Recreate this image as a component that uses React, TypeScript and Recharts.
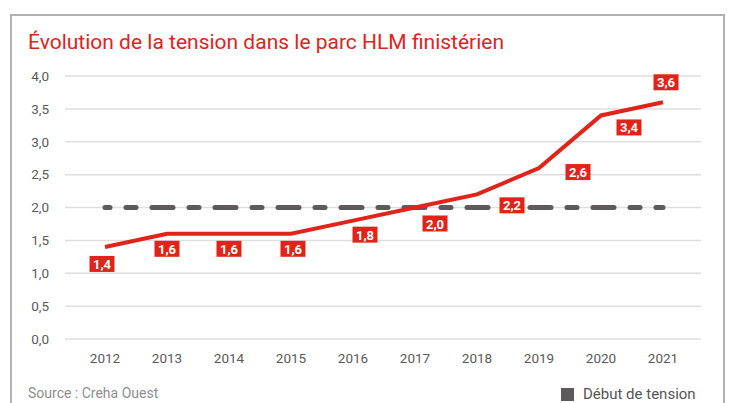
import { CartesianGrid, LabelList, Line, LineChart, XAxis, YAxis } from "recharts";

const YEARS = ["2012", "2013", "2014", "2015", "2016", "2017", "2018", "2019", "2020", "2021"];
const TENSION = [1.4, 1.6, 1.6, 1.6, 1.8, 2.0, 2.2, 2.6, 3.4, 3.6];
const DEBUT_TENSION = [2, 2, 2, 2, 2, 2, 2, 2, 2, 2];
const Y_TICKS = [0, 0.5, 1, 1.5, 2, 2.5, 3, 3.5, 4];

const TITLE = "Évolution de la tension dans le parc HLM finistérien";
const SOURCE = "Source : Creha Ouest";
const LEGEND = "Début de tension";

// label box shift from each point (the original puts them loosely below/right)
const LABEL_SHIFT: [number, number][] = [
  [-3, 17], [0, 15], [0, 15], [2, 15], [12, 14],
  [20, 16], [35, 11], [39, 4], [28, 12], [3, -20],
];

const RED = "#e2231a";
const GREY = "#5c5a5b";
const FONT = "Roboto, 'Noto Sans', sans-serif";

const data = YEARS.map((year, i) => ({
  year,
  tension: TENSION[i],
  debut: DEBUT_TENSION[i],
}));

const fmt = (v: number) => v.toFixed(1).replace(".", ",");

function ValueBox(props: any) {
  const { x, y, value, index } = props;
  const [dx, dy] = LABEL_SHIFT[index] ?? [0, 15];
  const cx = Number(x) + dx;
  const cy = Number(y) + dy;
  return (
    <g>
      <rect x={cx - 12.5} y={cy - 8} width={25} height={16} fill={RED} />
      <text
        x={cx}
        y={cy + 0.5}
        textAnchor="middle"
        dominantBaseline="central"
        fill="#fff"
        fontSize={13}
        fontWeight="bold"
        fontFamily={FONT}
      >
        {fmt(Number(value))}
      </text>
    </g>
  );
}

export default function App() {
  return (
    <div
      style={{
        position: "absolute",
        left: 0,
        top: 0,
        width: 731,
        height: 403,
        background: "#fff",
        overflow: "hidden",
        fontFamily: FONT,
      }}
    >
      <div
        style={{
          position: "absolute",
          left: 10,
          top: 14,
          width: 711,
          height: 420,
          border: "2px solid #b2b2b2",
        }}
      />
      <div style={{ position: "absolute", left: 28, top: 30, fontSize: 21, color: RED, whiteSpace: "nowrap" }}>
        {TITLE}
      </div>
      <div style={{ position: "absolute", left: 28, top: 385, fontSize: 14, color: "#8e8e8e", whiteSpace: "nowrap" }}>
        {SOURCE}
      </div>
      <div style={{ position: "absolute", left: 561, top: 385, height: 18, display: "flex", alignItems: "center", gap: 9 }}>
        <span style={{ width: 13, height: 13, background: GREY, display: "inline-block" }} />
        <span style={{ fontSize: 15, color: "#555", whiteSpace: "nowrap" }}>{LEGEND}</span>
      </div>
      <div style={{ position: "absolute", left: 0, top: 0 }}>
        <LineChart width={731} height={403} data={data} margin={{ top: 76, right: 30, bottom: 34, left: 35 }}>
          <CartesianGrid vertical={false} stroke="#dedede" strokeWidth={1.5} />
          <XAxis
            dataKey="year"
            padding={{ left: 40, right: 38 }}
            tickLine={false}
            axisLine={false}
            tickMargin={8}
            tick={{ fill: "#5a5a5a", fontSize: 13.5, fontFamily: FONT }}
          />
          <YAxis
            width={30}
            domain={[0, 4]}
            ticks={Y_TICKS}
            tickFormatter={fmt}
            tickLine={false}
            axisLine={false}
            tickMargin={10}
            tick={{ fill: "#5a5a5a", fontSize: 13.5, fontFamily: FONT }}
          />
          <Line
            dataKey="debut"
            stroke={GREY}
            strokeWidth={5}
            strokeLinecap="round"
            strokeDasharray="10 16 21 16"
            strokeDashoffset={42}
            dot={false}
            isAnimationActive={false}
          />
          <Line
            dataKey="tension"
            stroke={RED}
            strokeWidth={4}
            dot={false}
            isAnimationActive={false}
          >
            <LabelList dataKey="tension" content={ValueBox} />
          </Line>
        </LineChart>
      </div>
    </div>
  );
}
